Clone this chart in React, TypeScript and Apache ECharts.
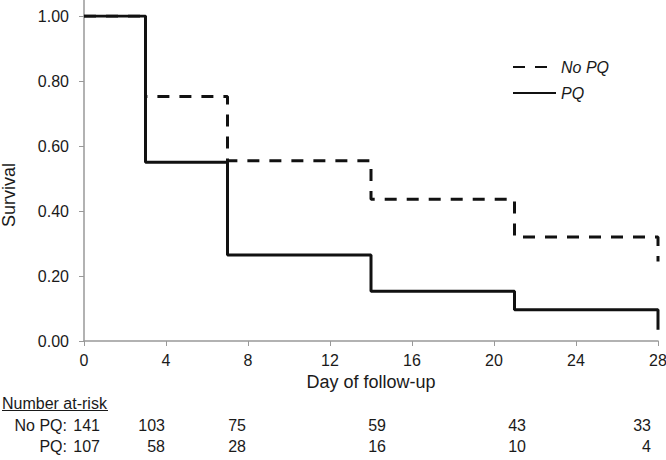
import React, { useEffect, useRef } from "react";
import * as echarts from "echarts";

const days = [0, 3, 7, 14, 21, 28];
const survNoPQ = [1, 0.752, 0.555, 0.436, 0.32, 0.245];
const survPQ = [1, 0.55, 0.265, 0.153, 0.096, 0.035];
const seriesNames = ["No PQ", "PQ"];
const atRiskNoPQ = [141, 103, 75, 59, 43, 33];
const atRiskPQ = [107, 58, 28, 16, 10, 4];
const rowLabels = ["No PQ:", "PQ:"];
const tableTitle = "Number at-risk";
const yTitle = "Survival";
const xTitle = "Day of follow-up";

// layout (pixel positions of at-risk columns' right edges)
const colRight = [100, 165, 246, 386, 526, 651];
const FONT = "'Liberation Sans', Arial, sans-serif";
const FS = 16;
const TFS = 18;
const TXT = "#1a1a1a";

export default function App() {
  const ref = useRef<HTMLDivElement>(null);
  useEffect(() => {
    const chart = echarts.init(ref.current!, null, { renderer: "svg" });
    const noPQ = days.map((d, i) => [d, survNoPQ[i]]);
    const pq = days.map((d, i) => [d, survPQ[i]]);
    const textStyle = { fontFamily: FONT, fontSize: FS, fill: TXT };
    const graphics: any[] = [
      { type: "line", shape: { x1: 84, y1: 0, x2: 84, y2: 16 }, style: { stroke: "#999", lineWidth: 1.5 } },
      { type: "text", x: 9, y: 195, rotation: Math.PI / 2, style: { ...textStyle, fontSize: TFS, text: yTitle, verticalAlign: "middle", align: "center" } },
      { type: "text", x: 2, y: 403, style: { ...textStyle, text: tableTitle, verticalAlign: "middle", align: "left" } },
      { type: "line", shape: { x1: 2, y1: 410.5, x2: 108, y2: 410.5 }, style: { stroke: TXT, lineWidth: 1 } },
      { type: "text", x: 67, y: 425, style: { ...textStyle, text: rowLabels[0], verticalAlign: "middle", align: "right" } },
      { type: "text", x: 67, y: 446, style: { ...textStyle, text: rowLabels[1], verticalAlign: "middle", align: "right" } },
    ];
    atRiskNoPQ.forEach((v, i) =>
      graphics.push({ type: "text", x: colRight[i], y: 425, style: { ...textStyle, text: String(v), verticalAlign: "middle", align: "right" } })
    );
    atRiskPQ.forEach((v, i) =>
      graphics.push({ type: "text", x: colRight[i], y: 446, style: { ...textStyle, text: String(v), verticalAlign: "middle", align: "right" } })
    );
    chart.setOption({
      animation: false,
      backgroundColor: "#fff",
      grid: { left: 84, right: 8, top: 16, bottom: 119, containLabel: false, outerBoundsMode: "none" },
      legend: {
        orient: "vertical",
        left: 507,
        top: 54,
        itemWidth: 43,
        itemHeight: 16,
        itemGap: 10,
        data: seriesNames,
        itemStyle: { opacity: 0 },
        textStyle: { fontFamily: FONT, fontSize: FS, fontStyle: "italic", color: TXT },
      },
      xAxis: {
        type: "value",
        min: 0,
        max: 28,
        interval: 4,
        name: xTitle,
        nameLocation: "middle",
        nameGap: 32,
        nameTextStyle: { fontFamily: FONT, fontSize: TFS, color: TXT },
        axisLine: { show: true, lineStyle: { color: "#999", width: 1.5 } },
        axisTick: { show: true, length: 5, lineStyle: { color: "#999" } },
        axisLabel: { fontFamily: FONT, fontSize: FS, color: TXT, margin: 11 },
        splitLine: { show: false },
      },
      yAxis: {
        type: "value",
        min: 0,
        max: 1,
        interval: 0.2,
        axisLine: { show: true, lineStyle: { color: "#999", width: 1.5 } },
        axisTick: { show: true, length: 5, lineStyle: { color: "#999" } },
        axisLabel: { fontFamily: FONT, fontSize: FS, color: TXT, margin: 15, formatter: (v: number) => v.toFixed(2) },
        splitLine: { show: false },
      },
      series: [
        {
          name: seriesNames[0],
          type: "line",
          step: "end",
          data: noPQ,
          symbol: "none",
          z: 2,
          lineStyle: { color: "#111", width: 3, type: [12, 10] },
          itemStyle: { color: "#111" },
        },
        {
          name: seriesNames[1],
          type: "line",
          step: "end",
          data: pq,
          symbol: "none",
          z: 3,
          lineStyle: { color: "#111", width: 3, type: "solid" },
          itemStyle: { color: "#111" },
        },
      ],
      graphic: graphics,
    });
    return () => chart.dispose();
  }, []);
  return <div ref={ref} style={{ position: "absolute", left: 0, top: 0, width: 666, height: 460 }} />;
}
